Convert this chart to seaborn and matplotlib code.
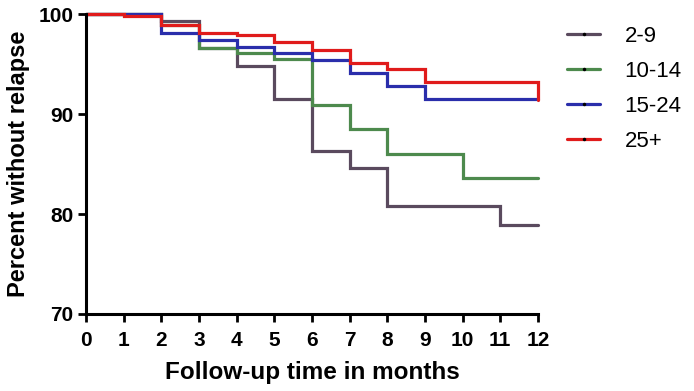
import pandas as pd
import seaborn as sns
import matplotlib.pyplot as plt
from matplotlib.lines import Line2D

# Kaplan-Meier style step values, read at each month (steps-post)
months = list(range(13))
groups = ['2-9', '10-14', '15-24', '25+']
surv_2_9 = [100, 100, 99.3, 96.6, 94.8, 91.5, 86.3, 84.6, 80.8, 80.8, 80.8, 78.9, 78.9]
surv_10_14 = [100, 100, 98.9, 96.6, 96.1, 95.5, 90.9, 88.5, 86.0, 86.0, 83.6, 83.6, 83.6]
surv_15_24 = [100, 100, 98.1, 97.4, 96.7, 96.1, 95.4, 94.1, 92.8, 91.5, 91.5, 91.5, 91.5]
surv_25 = [100, 99.8, 98.9, 98.1, 97.9, 97.2, 96.4, 95.1, 94.5, 93.2, 93.2, 93.2, 91.4]
colors = ['#5a4a5e', '#4d8a4d', '#2a2eab', '#e01b1b']

rows = []
for g, vals in zip(groups, [surv_2_9, surv_10_14, surv_15_24, surv_25]):
    for m, v in zip(months, vals):
        rows.append({'month': m, 'pct': v, 'group': g})
df = pd.DataFrame(rows)

sns.set_style('ticks')
plt.rcParams['font.family'] = ['Liberation Sans', 'DejaVu Sans']
plt.rcParams['text.color'] = 'black'
plt.rcParams['axes.labelcolor'] = 'black'
plt.rcParams['xtick.color'] = 'black'
plt.rcParams['ytick.color'] = 'black'

fig = plt.figure(figsize=(6.94, 3.91), dpi=100)
ax = fig.add_axes([0.124, 0.197, 0.651, 0.767])

sns.lineplot(data=df, x='month', y='pct', hue='group', hue_order=groups,
             palette=dict(zip(groups, colors)), drawstyle='steps-post',
             estimator=None, linewidth=2.3, legend=False, ax=ax)
for line in ax.lines:
    line.set_clip_on(False)
    line.set_solid_joinstyle('miter')

ax.set_xlim(0, 12)
ax.set_ylim(70, 100)
ax.set_xticks(months)
ax.set_yticks([70, 80, 90, 100])
for lab in ax.get_xticklabels() + ax.get_yticklabels():
    lab.set_fontweight('bold')
ax.tick_params(axis='both', labelsize=15, width=2, length=6, colors='black')
ax.tick_params(axis='x', pad=6)
ax.tick_params(axis='y', pad=3)
for side in ['left', 'bottom']:
    ax.spines[side].set_linewidth(2.2)
    ax.spines[side].set_color('black')
sns.despine(ax=ax)

ax.set_xlabel('Follow-up time in months', fontsize=17.5, fontweight='bold', labelpad=8)
ax.set_ylabel('Percent without relapse', fontsize=17, fontweight='bold', labelpad=6)

handles = [Line2D([0], [0], color=c, lw=2.3, marker='o', markersize=1.5,
                  markerfacecolor='black', markeredgecolor='black') for c in colors]
fig.legend(handles, groups, loc='upper left', bbox_to_anchor=(0.788, 0.985),
           frameon=False, fontsize=16, handlelength=1.5, handletextpad=1.1,
           labelspacing=0.63)

fig.savefig('out.png', dpi=100)
